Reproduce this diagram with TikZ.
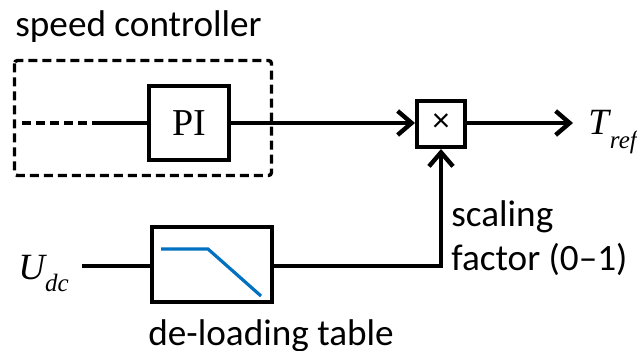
\documentclass[tikz,border=0pt]{standalone}
\usepackage{fontspec}
\setmainfont{Carlito}
\newfontfamily\tms{Liberation Serif}
\usetikzlibrary{arrows.meta}
\definecolor{tblblue}{RGB}{0,112,192}
\begin{document}
\begin{tikzpicture}[x=0.5pt,y=-0.5pt,
  blk/.style={draw,line width=2pt,inner sep=0pt},
  wire/.style={line width=2pt},
  dsh/.style={line width=1.7pt,dash pattern=on 4.5pt off 2.5pt},
  arr/.style={wire,-{Straight Barb[length=7pt,width=12pt,line width=2.2pt]}},
  lbl/.style={inner sep=0pt,anchor=base west,font=\fontsize{18.6}{20}\selectfont}]
\useasboundingbox (0,0) rectangle (637,351);
% speed controller
\draw[dsh,rounded corners=1.5pt] (14.5,60.5) rectangle (271.5,175.5);
\node[lbl] (sc) at (15,37) {speed controller};
\node[blk,minimum width=40pt,minimum height=37pt,font=\tms\fontsize{19}{20}\selectfont] (pi) at (189,123) {PI};
\coordinate (in) at (22,123);
\coordinate (mid) at (100,123);
\draw[dsh,line width=2pt] (in) -- (mid);
\draw[wire] (mid) -- (pi.west);
% multiplier
\node[blk,minimum width=24pt,minimum height=23pt,font=\fontsize{17}{18}\selectfont] (mul) at (441,124) {\raisebox{0.15ex}{×}};
\draw[arr] (pi.east) -- (mul.west |- pi.east);
\coordinate (out) at (573,123);
\draw[arr] (mul.east |- out) -- (out);
\node[inner sep=0pt,anchor=base west,font=\tms\itshape\fontsize{18.5}{20}\selectfont] (tref) at (588,135) {T\kern0.5pt\raisebox{-0.36em}{\fontsize{12.5}{13}\selectfont ref}};
% de-loading table
\node[blk,minimum width=60pt,minimum height=37.5pt] (tbl) at (212,265) {};
\draw[tblblue,line width=1.6pt] (161,249) -- (208,249) -- (261,296);
\node[lbl] (dlt) at (148,346) {de-loading table};
\node[inner sep=0pt,anchor=base west,font=\tms\itshape\fontsize{18.5}{20}\selectfont] (udc) at (18,280) {U\raisebox{-0.32em}{\fontsize{12.5}{13}\selectfont dc}};
\coordinate (uin) at (82,266);
\draw[wire] (uin) -- (tbl.west |- uin);
\draw[arr] (tbl.east |- uin) -| (mul.south);
\node[lbl] (sf1) at (451,227) {scaling};
\node[lbl] (sf2) at (451,271) {factor (0–1)};
\end{tikzpicture}
\end{document}
